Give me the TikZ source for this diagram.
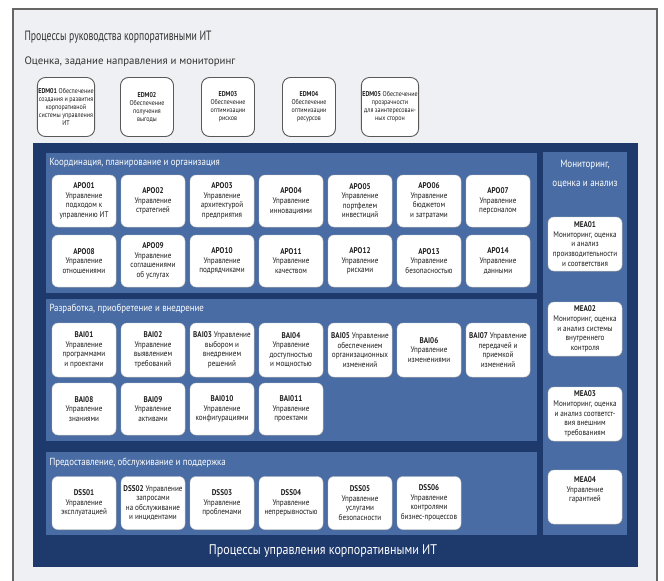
\documentclass[tikz,border=0pt]{standalone}
\usepackage{fontspec}
\setmainfont{PT Sans}[FakeStretch=0.86]
\newfontfamily\narrowfont{PT Sans}[FakeStretch=0.72]
\newfontfamily\widefont{PT Sans}
\usetikzlibrary{shadows}
\definecolor{navy}{RGB}{30,57,108}
\definecolor{midblue}{RGB}{72,108,163}
\definecolor{pagegray}{RGB}{238,240,243}
\definecolor{textgray}{RGB}{30,30,30}
\tikzset{
	edmbox/.style={draw=black!65, line width=0.9pt, fill=white, rounded corners=8pt,
		minimum width=53pt, minimum height=59pt, align=center, inner sep=1pt,
		font=\fontsize{7}{8}\selectfont, text=textgray},
	procbox/.style={draw=black!20, fill=white, rounded corners=6pt,
		minimum width=64pt, minimum height=52pt, align=center, inner sep=1pt,
		font=\fontsize{8.3}{9.6}\selectfont, text=textgray,
		drop shadow={shadow xshift=0.8pt, shadow yshift=-0.8pt, opacity=0.35}},
	meabox/.style={procbox, minimum width=74pt, minimum height=54pt},
	grouptitle/.style={anchor=west, text=white, font=\fontsize{10.3}{12}\selectfont},
}
\begin{document}
\begin{tikzpicture}[x=1pt,y=-1pt]
	\useasboundingbox (0,0) rectangle (664,581);
	% page
	\fill[white] (0,0) rectangle (664,581);
	\fill[pagegray] (13,9) rectangle (657,581);
	\draw[black!60, line width=1.2pt] (13,581) -- (13,9) -- (657,9) -- (657,581);
	\node[anchor=west, text=black!80, font=\narrowfont\fontsize{13.5}{15}\selectfont] (title) at (21,37) {Процессы руководства корпоративными ИТ};
	\node[anchor=west, text=black!80, font=\widefont\fontsize{10.8}{12}\selectfont] (edmtitle) at (21,62) {Оценка, задание направления и мониторинг};
	% EDM
	\foreach \t [count=\i] in {
		{\textbf{EDM01} Обеспечение\\создания и развития\\корпоративной\\системы управления\\ИТ},
		{\textbf{EDM02}\\Обеспечение\\получения\\выгоды},
		{\textbf{EDM03}\\Обеспечение\\оптимизации\\рисков},
		{\textbf{EDM04}\\Обеспечение\\оптимизации\\ресурсов},
		{\textbf{EDM05} Обеспечение\\прозрачности\\для заинтересован-\\ных сторон}}{
		\node[edmbox] (edm\i) at ({66+81*(\i-1)},107) {\t};
	}
	% blue panels
	\fill[navy] (33,143) rectangle (638,567);
	\fill[midblue] (46,153) rectangle (537,293);
	\fill[midblue] (46,299) rectangle (537,441);
	\fill[midblue] (46,452) rectangle (537,535);
	\fill[midblue] (543,152) rectangle (627,535);
	\node[grouptitle] (apotitle) at (46,163) {Координация, планирование и организация};
	\node[grouptitle] (baititle) at (46,309) {Разработка, приобретение и внедрение};
	\node[grouptitle] (dsstitle) at (46,463) {Предоставление, обслуживание и поддержка};
	\node[text=white, align=center, font=\fontsize{10.5}{19}\selectfont] (meatitle) at (585,174) {Мониторинг,\\оценка и анализ};
	\node[text=white, font=\fontsize{14}{16}\selectfont] (maintitle) at (323,551) {Процессы управления корпоративными ИТ};
	% APO
	\foreach \t [count=\i] in {
		{\textbf{APO01}\\Управление\\подходом к\\управлению ИТ},
		{\textbf{APO02}\\Управление\\стратегией},
		{\textbf{APO03}\\Управление\\архитектурой\\предприятия},
		{\textbf{APO04}\\Управление\\инновациями},
		{\textbf{APO05}\\Управление\\портфелем\\инвестиций},
		{\textbf{APO06}\\Управление\\бюджетом\\и затратами},
		{\textbf{APO07}\\Управление\\персоналом}}{
		\node[procbox] (apo\i) at ({84+69*(\i-1)},201) {\t};
	}
	\foreach \t [count=\i from 8] in {
		{\textbf{APO08}\\Управление\\отношениями},
		{\textbf{APO09}\\Управление\\соглашениями\\об услугах},
		{\textbf{APO10}\\Управление\\подрядчиками},
		{\textbf{APO11}\\Управление\\качеством},
		{\textbf{APO12}\\Управление\\рисками},
		{\textbf{APO13}\\Управление\\безопасностью},
		{\textbf{APO14}\\Управление\\данными}}{
		\node[procbox] (apo\i) at ({84+69*(\i-8)},261) {\t};
	}
	% BAI
	\foreach \t [count=\i] in {
		{\textbf{BAI01}\\Управление\\программами\\и проектами},
		{\textbf{BAI02}\\Управление\\выявлением\\требований},
		{\textbf{BAI03} Управление\\выбором и\\внедрением\\решений},
		{\textbf{BAI04}\\Управление\\доступностью\\и мощностью},
		{\textbf{BAI05} Управление\\обеспечением\\организационных\\изменений},
		{\textbf{BAI06}\\Управление\\изменениями},
		{\textbf{BAI07} Управление\\передачей и\\приемкой\\изменений}}{
		\node[procbox, minimum height=54pt] (bai\i) at ({84+69*(\i-1)},350) {\t};
	}
	\foreach \t [count=\i from 8] in {
		{\textbf{BAI08}\\Управление\\знаниями},
		{\textbf{BAI09}\\Управление\\активами},
		{\textbf{BAI010}\\Управление\\конфигурациями},
		{\textbf{BAI011}\\Управление\\проектами}}{
		\node[procbox] (bai\i) at ({84+69*(\i-8)},409) {\t};
	}
	% DSS
	\foreach \t [count=\i] in {
		{\textbf{DSS01}\\Управление\\эксплуатацией},
		{\textbf{DSS02} Управление\\запросами\\на обслуживание\\и инцидентами},
		{\textbf{DSS03}\\Управление\\проблемами},
		{\textbf{DSS04}\\Управление\\непрерывностью},
		{\textbf{DSS05}\\Управление\\услугами\\безопасности},
		{\textbf{DSS06}\\Управление\\контролями\\бизнес-процессов}}{
		\node[procbox, minimum height=53pt] (dss\i) at ({84+69*(\i-1)},503) {\t};
	}
	% MEA
	\node[meabox] (mea1) at (585,244) {\textbf{MEA01}\\Мониторинг, оценка\\и анализ\\производительности\\и соответствия};
	\node[meabox] (mea2) at (585,329) {\textbf{MEA02}\\Мониторинг, оценка\\и анализ системы\\внутреннего\\контроля};
	\node[meabox] (mea3) at (585,414) {\textbf{MEA03}\\Мониторинг, оценка\\и анализ соответст-\\вия внешним\\требованиям};
	\node[meabox] (mea4) at (585,497) {\textbf{MEA04}\\Управление\\гарантией\\[6pt]};
\end{tikzpicture}
\end{document}
